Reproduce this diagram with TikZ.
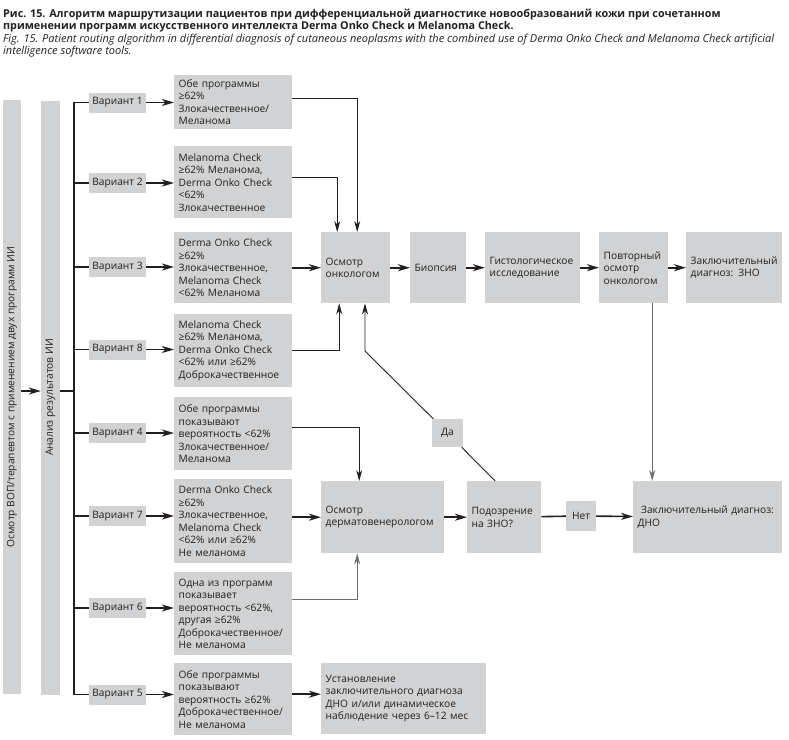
\documentclass[tikz,border=0pt]{standalone}
\usepackage{fontspec}
\setmainfont{Open Sans}
\usetikzlibrary{arrows.meta}
\definecolor{boxgray}{HTML}{D1D2D3}
\definecolor{ink}{HTML}{231F20}
\definecolor{linegray}{HTML}{6D6E70}

\begin{document}
\begin{tikzpicture}[x=1pt, y=-1pt,
    every node/.style={text=ink, font=\fontsize{10.2}{12.5}\selectfont},
    caption/.style={anchor=base west, inner sep=0pt},
    box/.style={fill=boxgray, inner xsep=4.5pt, inner ysep=0pt, align=left, anchor=north west},
    tag/.style={fill=boxgray, inner sep=0pt},
    bar/.style={fill=boxgray, inner sep=0pt, rotate=90, minimum width=594pt, minimum height=18pt},
    heavy/.style={draw=ink, line width=1.6pt},
    arrow/.style={heavy, -{Stealth[length=12pt, width=7pt, inset=3.5pt]}},
    thin arrow/.style={draw=ink, line width=0.9pt, -{Stealth[length=11pt, width=6pt, inset=3.5pt]}}]
    \useasboundingbox (0,0) rectangle (789,739);
    \node[caption, font=\fontsize{10.8}{12.5}\bfseries] (cap1) at (3,17)
      {Рис. 15. Алгоритм маршрутизации пациентов при дифференциальной диагностике новообразований кожи при сочетанном};
    \node[caption, font=\fontsize{10.8}{12.5}\bfseries] (cap2) at (3,29.5)
      {применении программ искусственного интеллекта Derma Onko Check и Melanoma Check.};
    \node[caption, font=\fontsize{11}{12.5}\itshape] (cap3) at (3,42)
      {Fig. 15. Patient routing algorithm in differential diagnosis of cutaneous neoplasms with the combined use of Derma Onko Check and Melanoma Check artificial};
    \node[caption, font=\fontsize{11}{12.5}\itshape] (cap4) at (3,54.5)
      {intelligence software tools.};

    \node[bar] (vop) at (12,397) {Осмотр ВОП/терапевтом с применением двух программ ИИ};
    \node[bar, minimum height=19pt] (ana) at (50.5,397.5) {Анализ результатов ИИ};
    \coordinate (split) at (74,391);

    \foreach \n/\y in {1/102.5, 2/183, 3/267, 8/349.5, 4/433, 7/516, 6/608, 5/694.5}
      \node[tag, minimum width=57pt, minimum height=20pt] (v\n) at (117.5,\y) {Вариант \n};

    \node[box, text width=108.5pt, minimum height=54pt] (d1) at (174,75)
      {Обе программы\\ ≥62\%\\ Злокачественное/\\ Меланома};
    \node[box, text width=108.5pt, minimum height=72pt] (d2) at (174,146)
      {Melanoma Check\\ ≥62\% Меланома,\\ Derma Onko Check\\ <62\%\\ Злокачественное};
    \node[box, text width=108.5pt, minimum height=71pt] (d3) at (174,232)
      {Derma Onko Check\\ ≥62\%\\ Злокачественное,\\ Melanoma Check\\ <62\% Меланома};
    \node[box, text width=108.5pt, minimum height=73pt] (d8) at (174,314)
      {Melanoma Check\\ ≥62\% Меланома,\\ Derma Onko Check\\ <62\% или ≥62\%\\ Доброкачественное};
    \node[box, text width=108.5pt, minimum height=73pt] (d4) at (174,397)
      {Обе программы\\ показывают\\ вероятность <62\%\\ Злокачественное/\\ Меланома};
    \node[box, text width=108.5pt, minimum height=84pt] (d7) at (174,479)
      {Derma Onko Check\\ ≥62\%\\ Злокачественное,\\ Melanoma Check\\ <62\% или ≥62\%\\ Не меланома};
    \node[box, text width=108.5pt, minimum height=83pt] (d6) at (174,572)
      {Одна из программ\\ показывает\\ вероятность <62\%,\\ другая ≥62\%\\ Доброкачественное/\\ Не меланома};
    \node[box, text width=108.5pt, minimum height=72pt] (d5) at (174,663)
      {Обе программы\\ показывают\\ вероятность ≥62\%\\ Доброкачественное/\\ Не меланома};

    \node[box, text width=60pt, minimum height=71pt] (onc) at (321,232) {Осмотр\\ онкологом};
    \node[box, text width=47pt, minimum height=71pt] (bio) at (410,232) {Биопсия};
    \node[box, text width=86pt, minimum height=71pt] (hist) at (485,232) {Гистологическое\\ исследование};
    \node[box, text width=60pt, minimum height=71pt] (rep) at (599,232) {Повторный\\ осмотр\\ онкологом};
    \node[box, text width=87pt, minimum height=71pt] (zno) at (686,232) {Заключительный\\ диагноз: ЗНО};
    \node[box, text width=114pt, minimum height=72pt] (derm) at (321,481) {Осмотр\\ дерматовенерологом};
    \node[box, text width=65pt, minimum height=72pt] (susp) at (467,481) {Подозрение\\ на ЗНО?};
    \node[box, text width=140pt, minimum height=72pt] (dno) at (633,481) {\ Заключительный диагноз:\\ ДНО};
    \node[box, text width=156pt, minimum height=71pt] (est) at (321,663)
      {Установление\\ заключительного диагноза\\ ДНО и/или динамическое\\ наблюдение через 6–12 мес};
    \node[tag, minimum width=31pt, minimum height=28pt] (da) at (447.5,433) {Да};
    \node[tag, minimum width=30pt, minimum height=30pt] (net) at (581,516) {Нет};
    \coordinate (bend) at (365,351);

    \draw[arrow] (vop.south |- split) -- (ana.north |- split);
    \draw[heavy] (ana.south |- split) -- (split);
    \draw[heavy] (v1.west) -| (split) |- (v5.west);
    \foreach \n in {2,3,8,4,7,6}
      \draw[heavy] (split |- v\n.west) -- (v\n.west);
    \foreach \n in {1,2,3,8,4,7,6,5}
      \draw[arrow] (v\n.east) -- (v\n.east -| d\n.west);

    \draw[thin arrow] ([yshift=4pt]d1.east) -| ([xshift=1.5pt]onc.north);
    \draw[thin arrow] ([yshift=5pt]d2.east) -| ([xshift=-18.5pt]onc.north);
    \draw[arrow] (d3.east) -- (onc.west);
    \draw[thin arrow] (d8.east) -| ([xshift=-16.5pt]onc.south);
    \draw[thin arrow] ([xshift=-9pt]susp.north) -- (da) -- (bend) -- (bend |- onc.south);
    \draw[arrow] (onc) -- (bio);
    \draw[arrow] (bio) -- (hist);
    \draw[arrow] (hist) -- (rep);
    \draw[arrow] (rep) -- (zno);
    \draw[thin arrow, draw=linegray, line width=1.2pt] ([xshift=18.5pt]rep.south) -- ([xshift=18.5pt]rep.south |- dno.north);

    \draw[thin arrow] ([yshift=6.5pt]d4.east) -| ([xshift=-23.5pt]derm.north);
    \draw[arrow] (d7.east |- derm.west) -- (derm.west);
    \draw[thin arrow, draw=linegray, line width=1.1pt] ([yshift=14.5pt]d6.east) -| ([xshift=-25.5pt]derm.south);
    \draw[arrow] (derm) -- (susp);
    \draw[arrow] (susp) -- (net) -- (dno);
    \draw[arrow] ([yshift=5pt]d5.east) -- ([yshift=5pt]d5.east -| est.west);
\end{tikzpicture}
\end{document}
